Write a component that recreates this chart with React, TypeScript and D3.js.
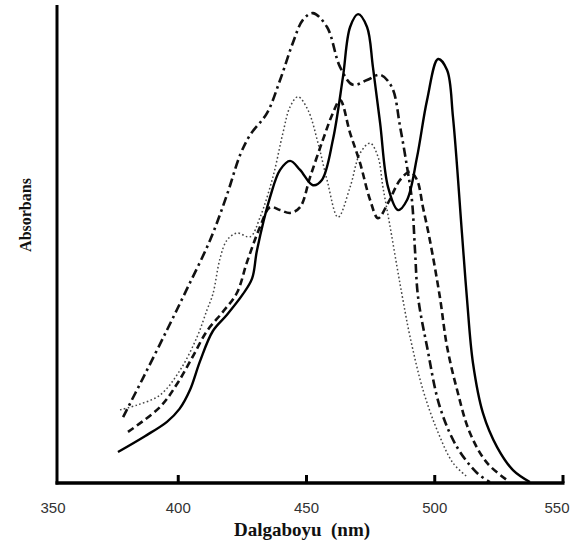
import React from "react";
import * as d3 from "d3";

// Wavelength (nm) and absorbance (arbitrary units) for four spectra
const solidNm = [376.5, 387.0, 395.6, 400.5, 404.6, 408.5, 413.5, 419.0, 425.2, 428.8, 430.7, 435.8, 439.7, 443.6, 447.5, 452.5, 456.0, 460.3, 464.2, 467.0, 470.1, 473.6, 475.9, 478.7, 481.8, 485.7, 489.2, 493.1, 497.0, 501.3, 504.8, 507.1, 510.6, 512.6, 514.9, 518.8, 524.3, 530.5, 537.1];
const solidAbs = [0.065, 0.098, 0.128, 0.155, 0.195, 0.255, 0.318, 0.352, 0.395, 0.428, 0.487, 0.598, 0.655, 0.674, 0.655, 0.623, 0.634, 0.718, 0.849, 0.954, 0.981, 0.954, 0.870, 0.753, 0.619, 0.571, 0.592, 0.682, 0.801, 0.887, 0.864, 0.766, 0.523, 0.383, 0.251, 0.146, 0.075, 0.027, 0.002];

const dashDotNm = [378.5, 386.3, 395.6, 403.4, 412.4, 419.0, 424.1, 428.0, 434.6, 439.7, 444.7, 448.6, 452.5, 458.0, 463.1, 468.1, 473.6, 478.7, 483.3, 486.5, 489.2, 491.1, 492.3, 493.5, 497.0, 502.0, 508.7, 516.5, 521.5];
const dashDotAbs = [0.138, 0.220, 0.320, 0.406, 0.508, 0.603, 0.686, 0.728, 0.774, 0.843, 0.921, 0.969, 0.983, 0.954, 0.870, 0.833, 0.843, 0.854, 0.828, 0.745, 0.661, 0.592, 0.487, 0.389, 0.285, 0.159, 0.075, 0.021, 0.002];

const dashedNm = [380.4, 392.9, 399.5, 405.4, 411.2, 417.4, 422.9, 426.8, 431.9, 435.8, 439.7, 443.6, 447.5, 451.4, 456.4, 460.3, 463.1, 467.0, 470.9, 474.8, 477.9, 481.8, 486.5, 490.4, 493.1, 495.4, 498.1, 502.0, 504.8, 508.7, 513.7, 520.4, 528.2];
const dashedAbs = [0.107, 0.159, 0.207, 0.262, 0.318, 0.358, 0.398, 0.462, 0.536, 0.577, 0.571, 0.565, 0.577, 0.640, 0.718, 0.774, 0.801, 0.732, 0.669, 0.592, 0.554, 0.586, 0.634, 0.651, 0.634, 0.577, 0.508, 0.389, 0.285, 0.195, 0.105, 0.042, 0.006];

const dottedNm = [377.3, 383.9, 392.9, 400.7, 407.3, 411.2, 413.5, 416.3, 419.0, 422.9, 428.0, 431.9, 436.9, 440.8, 443.6, 446.7, 450.6, 454.5, 458.0, 462.3, 467.0, 470.9, 474.8, 477.9, 479.8, 482.6, 485.3, 487.6, 490.4, 495.4, 500.9, 507.1, 512.6];
const dottedAbs = [0.153, 0.163, 0.184, 0.236, 0.305, 0.362, 0.395, 0.470, 0.508, 0.523, 0.515, 0.556, 0.640, 0.732, 0.787, 0.808, 0.780, 0.711, 0.634, 0.556, 0.619, 0.690, 0.711, 0.682, 0.619, 0.536, 0.452, 0.383, 0.305, 0.195, 0.111, 0.042, 0.013];

const xTicks = [350, 400, 450, 500, 550];
const xTitle = "Dalgaboyu  (nm)";
const yTitle = "Absorbans";

const W = 570;
const H = 551;
const axisX = 57;
const axisY = 483;
const axisTop = 5;

const x = d3.scaleLinear().domain([350, 550]).range([50, 563]);
const y = d3.scaleLinear().domain([0, 1]).range([axisY, axisTop]);

const line = d3
  .line<[number, number]>()
  .x((d) => x(d[0]))
  .y((d) => y(d[1]))
  .curve(d3.curveCatmullRom.alpha(0.5));

const zip = (a: number[], b: number[]) => a.map((v, i) => [v, b[i]] as [number, number]);

const series = [
  { pts: zip(dottedNm, dottedAbs), dash: "1.6,2.4", w: 1.5, color: "#444" },
  { pts: zip(dashedNm, dashedAbs), dash: "7,4", w: 2.6, color: "#111" },
  { pts: zip(dashDotNm, dashDotAbs), dash: "9,4,2.5,4", w: 2.6, color: "#111" },
  { pts: zip(solidNm, solidAbs), dash: "none", w: 2.4, color: "#000" },
];

export default function App() {
  return (
    <svg
      width={W}
      height={H}
      style={{ position: "absolute", left: 0, top: 0, background: "#fff" }}
    >
      {series.map((s, i) => (
        <path
          key={i}
          d={line(s.pts) || ""}
          fill="none"
          stroke={s.color}
          strokeWidth={s.w}
          strokeDasharray={s.dash}
          strokeLinecap="butt"
        />
      ))}
      {/* axes */}
      <line x1={axisX} y1={axisTop} x2={axisX} y2={axisY + 1.5} stroke="#000" strokeWidth={3} />
      <line x1={axisX - 1.5} y1={axisY} x2={x(550) + 1.5} y2={axisY} stroke="#000" strokeWidth={3.5} />
      {xTicks
        .filter((t) => t > 350)
        .map((t) => (
          <line key={t} x1={x(t)} x2={x(t)} y1={axisY} y2={axisY - 8} stroke="#000" strokeWidth={3} />
        ))}
      {xTicks.map((t) => (
        <text
          key={"l" + t}
          x={x(t) + (t === 350 ? 3 : t === 550 ? -6 : 0)}
          y={513}
          textAnchor="middle"
          fontFamily="'Liberation Sans', Arial, sans-serif"
          fontSize={15}
          fill="#333"
        >
          {t}
        </text>
      ))}
      <text
        x={302}
        y={536}
        textAnchor="middle"
        fontFamily="'Liberation Serif', 'Times New Roman', serif"
        fontWeight="bold"
        fontSize={19}
        fill="#111"
        style={{ whiteSpace: "pre" }}
      >
        {xTitle}
      </text>
      <text
        transform="translate(31,215) rotate(-90)"
        textAnchor="middle"
        fontFamily="'Liberation Serif', 'Times New Roman', serif"
        fontWeight="bold"
        fontSize={16}
        fill="#111"
      >
        {yTitle}
      </text>
    </svg>
  );
}
